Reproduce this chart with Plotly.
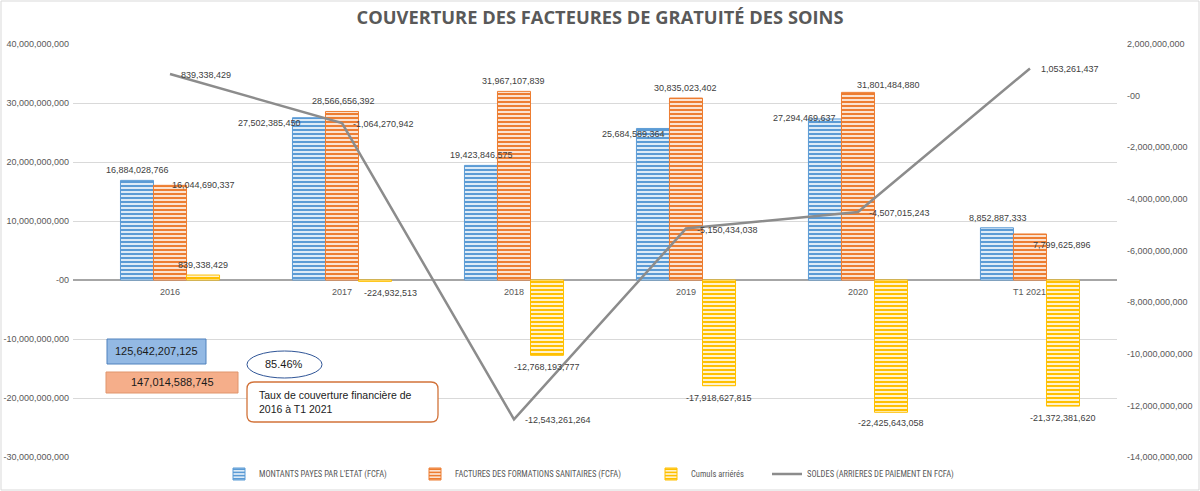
import plotly.graph_objects as go

# ---------------- data ----------------
categories = ["2016", "2017", "2018", "2019", "2020", "T1 2021"]
montants_etat = [16884028766, 27502385450, 19423846575, 25684589364, 27294469637, 8852887333]
factures_fs = [16044690337, 28566656392, 31967107839, 30835023402, 31801484880, 7799625896]
cumuls_arrieres = [839338429, -224932513, -12768193777, -17918627815, -22425643058, -21372381620]
soldes = [839338429, -1064270942, -12543261264, -5150434038, -4507015243, 1053261437]
total_paye = 125642207125
total_factures = 147014588745

left_ticks = [-30e9, -20e9, -10e9, 0, 10e9, 20e9, 30e9, 40e9]
right_ticks = [-14e9, -12e9, -10e9, -8e9, -6e9, -4e9, -2e9, 0, 2e9]

names = ["MONTANTS PAYES PAR L'ETAT (FCFA)", "FACTURES DES FORMATIONS SANITAIRES (FCFA)",
         "Cumuls arriérés", "SOLDES (ARRIERES DE PAIEMENT EN FCFA)"]

# ---------------- style ----------------
W, H = 1200, 491
L, R, T, B = 73, 83, 44, 34
PW, PH = W - L - R, H - T - B
TXT = "#404040"
AX = "#595959"
FONT = "Liberation Sans, Arial, sans-serif"
NARROW = "Liberation Sans Narrow, Roboto Condensed, Liberation Sans, Arial, sans-serif"

def px(X):
    return (X - L) / PW

def py(Y):
    return (T + PH - Y) / PH

def fmt(v):
    return "-00" if v == 0 else f"{v:,.0f}"

bar_styles = [
    dict(fg="#5B9BD5", bg="#DDEBF7", line="#5B9BD5"),
    dict(fg="#ED7D31", bg="#FBE2D0", line="#ED7D31"),
    dict(fg="#FFC000", bg="#FFF2CC", line="#FFC000"),
]
series = [montants_etat, factures_fs, cumuls_arrieres]
legend_ids = ["legend", "legend2", "legend3", "legend4"]
legend_text_x = [259, 455, 691, 807]   # px where each legend entry's text starts

fig = go.Figure()
for vals, nm, st, lg in zip(series, names[:3], bar_styles, legend_ids):
    fig.add_trace(go.Bar(
        x=categories, y=vals, name=nm, yaxis="y", legend=lg,
        marker=dict(color=st["bg"], line=dict(color=st["line"], width=1),
                    pattern=dict(shape="-", fgcolor=st["fg"], bgcolor=st["bg"],
                                 size=4, solidity=0.5, fillmode="replace")),
    ))

fig.add_trace(go.Scatter(
    x=categories, y=soldes, name=names[3], yaxis="y2", mode="lines", legend=legend_ids[3],
    line=dict(color="#8C8C8C", width=2.5),
))

# ---------------- data labels ----------------
bar_shift = [-33, 0, 33]
# (dx, dy) label offsets in px relative to bar end (dy positive = upwards)
label_offsets = [
    [(0, 10), (-40, -5), (1, 10), (-19, -6), (-20, 1), (1, 10)],
    [(33, 0), (1, 10), (0, 10), (0, 10), (31, 7), (32, -11)],
    [(0, 10), (15, -12), (0, -12), (0, -12), (0, -11), (0, -12)],
]
ann = []
for si, vals in enumerate(series):
    for ci, v in enumerate(vals):
        dx, dy = label_offsets[si][ci]
        ann.append(dict(x=ci, y=v, xref="x", yref="y", text=fmt(v),
                        showarrow=False, xshift=bar_shift[si] + dx, yshift=dy,
                        xanchor="center", yanchor="middle",
                        font=dict(family=FONT, size=9, color=TXT)))
for ci, v in enumerate(soldes):
    ann.append(dict(x=ci, y=v, xref="x", yref="y2", text=fmt(v),
                    showarrow=False, xshift=9, yshift=-1, xanchor="left", yanchor="middle",
                    font=dict(family=FONT, size=9, color=TXT)))
# category labels next to the zero line
for ci, c in enumerate(categories):
    ann.append(dict(x=ci, y=0, xref="x", yref="y", text=c, showarrow=False,
                    yshift=-12, xanchor="center", yanchor="middle",
                    font=dict(family=FONT, size=9, color=AX)))

# totals boxes
ann.append(dict(x=px(156), y=py(351), xref="paper", yref="paper", text=f"{total_paye:,}",
                showarrow=False, xanchor="center", yanchor="middle",
                font=dict(family=FONT, size=11, color="#1a1a1a")))
ann.append(dict(x=px(172), y=py(382), xref="paper", yref="paper", text=f"{total_factures:,}",
                showarrow=False, xanchor="center", yanchor="middle",
                font=dict(family=FONT, size=11, color="#1a1a1a")))
ann.append(dict(x=px(284), y=py(364), xref="paper", yref="paper",
                text=f"{total_paye / total_factures * 100:.2f}%",
                showarrow=False, xanchor="center", yanchor="middle",
                font=dict(family=FONT, size=11, color="#1a1a1a")))
ann.append(dict(x=px(257), y=py(402), xref="paper", yref="paper",
                text="Taux de couverture financière de<br>2016 à T1 2021", align="left",
                showarrow=False, xanchor="left", yanchor="middle",
                font=dict(family=FONT, size=10.5, color="#1a1a1a")))

def rounded_rect(x0, y0, x1, y1, r):
    X0, X1 = px(x0), px(x1)
    Y0, Y1 = py(y0), py(y1)
    rx, ry = r / PW, r / PH
    return (f"M {X0+rx},{Y0} L {X1-rx},{Y0} Q {X1},{Y0} {X1},{Y0-ry} "
            f"L {X1},{Y1+ry} Q {X1},{Y1} {X1-rx},{Y1} L {X0+rx},{Y1} "
            f"Q {X0},{Y1} {X0},{Y1+ry} L {X0},{Y0-ry} Q {X0},{Y0} {X0+rx},{Y0} Z")

shapes = [
    # outer chart border
    dict(type="rect", xref="paper", yref="paper", x0=px(1), x1=px(1199), y0=py(1), y1=py(490),
         line=dict(color="#D9D9D9", width=1), fillcolor="rgba(0,0,0,0)", layer="below"),
    dict(type="rect", xref="paper", yref="paper", x0=px(107), x1=px(206), y0=py(339), y1=py(364),
         line=dict(color="#4F81BD", width=1), fillcolor="#93B9E4"),
    dict(type="rect", xref="paper", yref="paper", x0=px(106), x1=px(238), y0=py(372), y1=py(393),
         line=dict(color="#E0956D", width=1), fillcolor="#F5AE8A"),
    dict(type="circle", xref="paper", yref="paper", x0=px(247), x1=px(322), y0=py(351), y1=py(378),
         line=dict(color="#2F5597", width=1), fillcolor="white"),
    dict(type="path", xref="paper", yref="paper", path=rounded_rect(247, 382, 438, 422, 7),
         line=dict(color="#D2733A", width=1.3), fillcolor="white"),
]

legend_common = dict(orientation="h", xanchor="left", y=py(474), yanchor="middle",
                     font=dict(family=NARROW, size=8.5, color=AX), itemwidth=30,
                     bgcolor="rgba(0,0,0,0)")
legends = {lg: dict(legend_common, x=px(tx - 40)) for lg, tx in zip(legend_ids, legend_text_x)}

fig.update_layout(
    width=W, height=H, autosize=False,
    margin=dict(l=L, r=R, t=T, b=B, pad=0, autoexpand=False),
    paper_bgcolor="white", plot_bgcolor="white",
    title=dict(text="<b>COUVERTURE DES FACTEURES DE GRATUITÉ DES SOINS</b>",
               x=0.5, xref="container", xanchor="center",
               y=1 - 18 / H, yref="container", yanchor="middle", automargin=False,
               font=dict(family="Open Sans, Liberation Sans, sans-serif", size=18.3, color=AX)),
    barmode="group", bargap=0.424, bargroupgap=0,
    xaxis=dict(type="category", range=[-0.564, 5.506], showticklabels=False,
               showgrid=False, zeroline=False, showline=False, ticks="", automargin=False),
    yaxis=dict(range=[-30e9, 40e9], tickvals=left_ticks, ticktext=[fmt(v) for v in left_ticks],
               showgrid=True, gridcolor="#D9D9D9", gridwidth=1,
               zeroline=True, zerolinecolor="#A6A6A6", zerolinewidth=1.8,
               showline=False, ticks="", ticklabelstandoff=3, automargin=False,
               tickfont=dict(family=FONT, size=9, color=AX)),
    yaxis2=dict(range=[-14e9, 2e9], overlaying="y", side="right",
                tickvals=right_ticks, ticktext=[fmt(v) for v in right_ticks],
                showgrid=False, zeroline=False, showline=False, ticks="",
                ticklabelstandoff=9, automargin=False,
                tickfont=dict(family=FONT, size=9, color=AX)),
    annotations=ann,
    shapes=shapes,
    showlegend=True,
    **legends,
)

fig.write_html("out.html", config={"displayModeBar": False},
               post_script="document.body.style.margin='0px';document.body.style.overflow='hidden';")
